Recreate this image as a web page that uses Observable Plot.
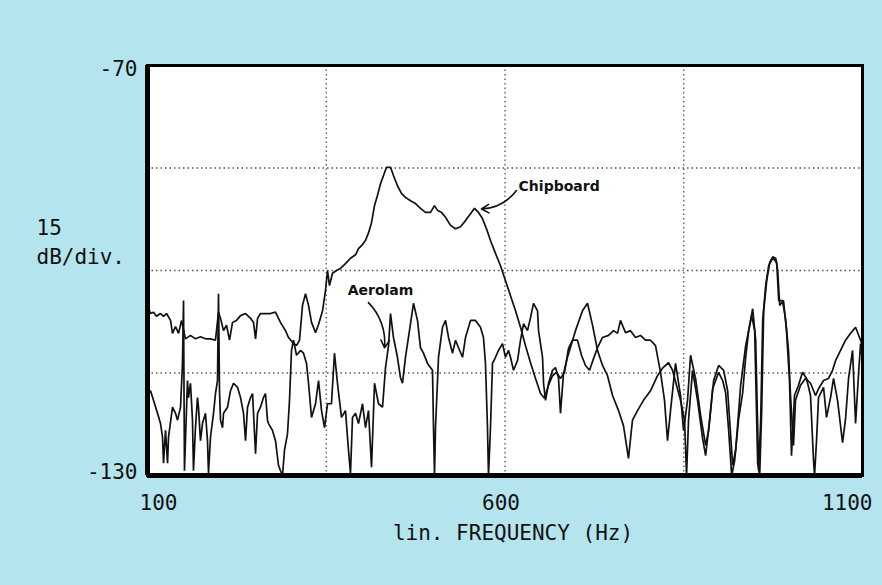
<!DOCTYPE html>
<html><head><meta charset="utf-8">
<script src="https://cdn.jsdelivr.net/npm/d3@7"></script>
<script src="https://cdn.jsdelivr.net/npm/@observablehq/plot@0.6"></script>
<style>
html,body{margin:0;padding:0;background:#b4e5ee;}
#chart{width:882px;height:585px;overflow:hidden;}
</style></head><body><div id="chart"></div>
<script>
// Chipboard spectrum (Hz, dB)
const chipFreq = [
100,104.2,108.4,112.6,118.2,122.4,126.6,132.2,135,139.2,
143.4,147.6,153.1,160.1,167.1,174.1,181.1,188.1,195.1,199.3,
202.1,206.3,210.5,214.7,218.9,224.5,230.1,237.1,244.1,248.3,
251.1,253.9,258,265,272,279,286,293,297.2,302.8,
308.4,312.6,316.8,321,325.2,329.4,335,339.2,344.8,349,
351.8,354.5,358.7,364.3,369.9,376.9,383.9,390.9,395.1,400.7,
404.9,409.1,413.3,417.5,421.7,425.9,430.1,434.3,439.9,444,
449.6,455.2,460.8,467.8,474.8,481.8,488.8,495.8,501.4,505.6,
511.2,516.8,523.8,530.8,537.8,544.8,551.8,557.3,562.9,568.5,
574.1,579.7,586.7,593.7,600.7,607.7,614.7,621.7,628.7,635.7,
642.7,649.7,655.3,660.9,666.4,672,677.6,683.2,688.8,694.4,
701.4,707,712.6,718.2,723.8,729.4,736.4,744.8,751.8,757.4,
761.5,768.5,775.5,782.5,789.5,796.5,803.5,810.5,817.5,823.1,
827.3,831.5,838.5,845.5,849.7,855.3,859.5,866.5,873.6,880.6,
884.8,891.8,898.8,905.8,911.4,918.4,922.6,929.6,936.6,940.8,
946.4,950.6,954.8,957.6,960.4,964.6,968.8,974.4,980,982.8,
988.1,992.3,996.5,999.3,1003.5,1006.3,1013.3,1020.3,1027.3,1034.3,
1038.5,1045.5,1052.5,1058.1,1062.3,1069.3,1076.3,1083.3,1090.3,1097.3,
1100];
const chipDb = [
-105.1,-106.3,-106.1,-106.7,-106.3,-106.7,-106.3,-107.3,-109.2,-108.2,
-109.2,-107.3,-110.0,-109.5,-110.0,-109.7,-110.0,-110.0,-110.2,-106.1,
-107.0,-108.8,-108.0,-110.2,-107.6,-107.3,-106.6,-106.3,-107.0,-107.6,
-110.0,-107.0,-106.3,-106.3,-106.3,-106.1,-107.6,-108.8,-109.8,-110.5,
-111.0,-110.2,-105.1,-103.4,-105.1,-107.6,-109.1,-107.9,-105.9,-102.9,
-100.0,-102.2,-100.4,-100.0,-99.7,-99.0,-98.2,-97.7,-96.8,-96.2,
-95.6,-94.5,-93.0,-90.5,-89.0,-87.3,-86.1,-84.9,-84.9,-86.1,
-87.6,-88.7,-89.3,-89.8,-90.2,-90.9,-91.5,-91.5,-90.5,-91.2,
-91.5,-92.2,-93.4,-93.9,-93.6,-92.7,-91.7,-90.9,-91.5,-92.4,
-93.9,-95.6,-97.5,-99.3,-101.5,-103.7,-105.9,-108.3,-111.0,-113.5,
-115.8,-118.0,-118.7,-116.8,-115.4,-114.9,-115.8,-114.9,-111.4,-110.2,
-110.2,-112.4,-113.9,-114.6,-112.9,-111.3,-109.8,-109.5,-108.8,-109.2,
-107.3,-109.1,-108.8,-109.8,-109.5,-110.2,-110.2,-111.0,-114.9,-119.0,
-124.9,-120.5,-113.6,-118.3,-123.4,-119.0,-112.4,-115.8,-121.2,-125.6,
-123.4,-116.1,-113.9,-114.6,-117.6,-128.5,-126.3,-116.8,-111.0,-108.8,
-105.6,-110.2,-129.3,-121.9,-107.3,-102.2,-99.3,-98.2,-98.8,-104.4,
-104.4,-107.0,-111.7,-118.3,-125.6,-119.0,-116.8,-115.8,-116.5,-118.3,
-117.3,-116.1,-115.8,-114.6,-113.2,-111.7,-110.2,-109.2,-108.3,-110.2,
-111.0];

// Aerolam spectrum (Hz, dB)
const aeroFreq = [
100,104.2,108.4,114.0,118.2,121.0,122.4,125.2,128.0,129.4,
135,139.2,142.0,146.2,148.9,150.4,151.7,155.9,157.3,160.1,
162.9,164.3,167.1,169.9,171.3,174.1,176.9,181.1,183.9,185.3,
188.1,192.3,195.1,197.9,199.3,200.7,202.1,204.9,206.3,211.9,
216.1,220.3,225.9,230.1,234.3,237.1,239.9,244.1,246.9,251.1,
253.9,258.0,262.2,265.0,267.8,269.2,274.8,279.0,283.2,286.0,
288.8,291.6,295.8,298.6,301.4,304.2,308.4,314.0,318.2,322.4,
325.2,329.4,335.0,339.2,343.4,347.6,351.8,357.3,361.5,365.7,
371.3,376.9,381.1,383.9,386.7,390.9,395.1,400.7,404.9,409.1,
413.3,417.5,423.1,428.7,432.9,437.1,439.9,444.0,449.6,453.8,
456.6,460.8,467.8,472.0,477.6,481.8,486.0,491.6,498.6,500.0,
501.4,502.8,507.0,512.6,516.8,521.0,526.6,530.8,535.0,540.6,
544.8,551.8,558.7,565.7,569.9,572.7,575.5,576.9,579.7,582.5,
586.7,590.9,596.5,600.7,604.9,607.7,611.9,617.5,621.7,625.9,
631.5,635.7,639.9,645.5,646.9,652.5,653.9,656.7,660.9,666.4,
670.6,674.8,677.6,681.8,687.4,698.6,708.4,715.4,722.4,729.4,
736.4,743.4,750.4,758.8,765.7,772.7,778.3,785.3,793.7,803.5,
813.3,820.3,828.7,834.3,839.9,845.5,851.1,853.9,856.7,862.3,
869.3,876.4,880.6,886.2,890.4,898.8,904.4,908.6,912.8,917.0,
921.2,926.8,932.4,936.6,940.8,945.0,949.2,953.4,956.2,959.0,
961.8,966.0,970.2,974.4,978.6,981.4,984.2,989.5,993.7,997.9,
1000.7,1004.9,1010.5,1016.1,1021.7,1027.3,1031.5,1032.9,1035.7,1038.5,
1045.5,1049.7,1055.3,1059.5,1065.1,1072.1,1076.3,1080.5,1086.1,1090.3,
1094.5,1097.3,1100];
const aeroDb = [
-118.0,-117.6,-119.0,-120.9,-122.4,-124.4,-128.2,-123.4,-128.2,-124.4,
-120.0,-120.9,-121.9,-120.0,-113.6,-104.4,-129.3,-116.1,-118.6,-116.5,
-121.9,-129.3,-123.0,-118.6,-120.0,-124.9,-122.4,-120.9,-124.9,-129.7,
-124.4,-120.9,-118.0,-116.1,-103.4,-117.6,-121.9,-123.0,-120.9,-120.0,
-117.6,-116.5,-117.1,-118.6,-120.9,-124.9,-120.0,-118.6,-118.0,-126.8,
-120.9,-120.0,-118.6,-118.0,-121.9,-122.4,-123.4,-124.9,-128.5,-129.3,
-130,-126.3,-123.9,-119.0,-111.7,-110.2,-112.4,-111.7,-112.1,-113.6,
-116.5,-121.5,-119.5,-116.1,-120.5,-123.0,-119.5,-119.5,-112.1,-116.5,
-121.5,-120.5,-126.3,-129.7,-121.5,-120.9,-122.4,-119.5,-123.0,-120.5,
-128.8,-116.5,-119.5,-120.0,-114.2,-111.0,-106.3,-109.8,-112.7,-115.7,
-116.5,-112.7,-107.8,-104.8,-107.3,-111.3,-112.1,-113.6,-114.6,-123.0,
-130,-123.0,-112.7,-108.3,-107.3,-109.8,-112.1,-110.2,-111.3,-112.7,
-109.8,-107.3,-107.3,-108.3,-109.8,-113.6,-123.0,-130,-123.0,-113.6,
-112.7,-111.7,-110.7,-112.7,-111.7,-112.7,-114.6,-113.2,-110.2,-107.8,
-108.8,-106.9,-104.8,-105.9,-108.8,-112.7,-116.5,-119.0,-116.5,-114.6,
-114.2,-115.7,-120.9,-115.1,-112.7,-108.8,-105.9,-104.8,-108.0,-111.7,
-113.9,-115.4,-118.3,-120.5,-122.7,-127.5,-121.9,-120.5,-119.0,-117.6,
-115.4,-114.3,-113.5,-114.6,-116.8,-119.0,-121.9,-130,-121.9,-114.6,
-119.0,-124.6,-127.1,-121.9,-117.3,-114.9,-116.1,-117.9,-123.4,-130,
-127.8,-121.7,-117.9,-112.7,-108.8,-106.6,-108.8,-128.2,-130,-120.5,
-105.9,-101.5,-98.8,-98.0,-98.2,-100.0,-105.1,-104.4,-108.8,-116.1,
-127.1,-118.3,-116.8,-114.9,-115.8,-118.3,-127.8,-130,-124.9,-118.6,
-117.1,-121.5,-118.6,-115.8,-119.0,-125.2,-121.7,-115.8,-111.7,-122.4,
-115.1,-110.7,-113.2];

// Axes, grid and labels
const xDomain = [100, 1100];
const yDomain = [-130, -70];
const xTickLeft = [100];
const xTickMid = [600];
const xTickRight = [1100];
const yTickTop = [-70];
const yTickBottom = [-130];
const gridFreq = [350, 600, 850];
const gridDb = [-85, -100, -115];
const yLabel = "15\ndB/div.";
const xLabel = "lin. FREQUENCY (Hz)";
const labelNames = ["Chipboard", "Aerolam"];
const labelFreq = [619, 380];
const labelDb = [-87.7, -102.9];
const arrowFrom = [[616, -88.3], [409, -104.7]];
const arrowTo = [[567, -91.0], [431.5, -111.3]];

const zip = (fs, ds) => fs.slice(0, Math.min(fs.length, ds.length)).map((f, i) => ({freq: f, db: ds[i]}));
const chipboard = zip(chipFreq, chipDb);
const aerolam = zip(aeroFreq, aeroDb);
const labels = labelNames.map((n, i) => ({name: n, freq: labelFreq[i], db: labelDb[i]}));
const arrows = arrowFrom.map((a, i) => ({x1: a[0], y1: a[1], x2: arrowTo[i][0], y2: arrowTo[i][1]}));

const mono = "'DejaVu Sans Mono', monospace";
const fmt = d => String(d);
const ink = "#111";

const chart = Plot.plot({
  width: 882, height: 585,
  marginLeft: 147, marginRight: 20, marginTop: 65, marginBottom: 110,
  x: {domain: xDomain},
  y: {domain: yDomain},
  style: {background: "transparent", fontFamily: mono, fontSize: "21px", color: ink, overflow: "visible"},
  marks: [
    Plot.frame({fill: "white", stroke: null}),
    Plot.ruleX(gridFreq, {stroke: "#555", strokeWidth: 1.3, strokeDasharray: "1.5,3"}),
    Plot.ruleY(gridDb, {stroke: "#555", strokeWidth: 1.3, strokeDasharray: "1.5,3"}),
    Plot.line(aerolam, {x: "freq", y: "db", stroke: ink, strokeWidth: 1.7, strokeLinejoin: "miter"}),
    Plot.line(chipboard, {x: "freq", y: "db", stroke: ink, strokeWidth: 1.7, strokeLinejoin: "miter"}),
    Plot.frame({stroke: "#000", strokeWidth: 3}),
    Plot.ruleX([xDomain[0]], {stroke: "#000", strokeWidth: 5}),
    Plot.ruleY([yDomain[0]], {stroke: "#000", strokeWidth: 5}),
    Plot.axisY(yTickTop, {tickSize: 0, tickPadding: 10, label: null, tickFormat: fmt, fontSize: 21, dy: 4}),
    Plot.axisY(yTickBottom, {tickSize: 0, tickPadding: 10, label: null, tickFormat: fmt, fontSize: 21, dy: -3}),
    Plot.axisX(xTickLeft, {tickSize: 0, tickPadding: 20, label: null, tickFormat: fmt, fontSize: 21, textAnchor: "start", dx: -8}),
    Plot.axisX(xTickMid, {tickSize: 0, tickPadding: 20, label: null, tickFormat: fmt, fontSize: 21, dx: -4}),
    Plot.axisX(xTickRight, {tickSize: 0, tickPadding: 20, label: null, tickFormat: fmt, fontSize: 21, textAnchor: "end", dx: 10}),
    Plot.text([yLabel], {text: d => d, frameAnchor: "left", dx: -111, dy: -30, textAnchor: "start", lineHeight: 1.38, fontSize: 21, fill: ink}),
    Plot.text([xLabel], {text: d => d, frameAnchor: "bottom", lineAnchor: "middle", dx: 8, dy: 58, fontSize: 21, fill: ink}),
    Plot.text(labels, {x: "freq", y: "db", text: "name", textAnchor: "start", fontFamily: "'DejaVu Sans', sans-serif", fontWeight: "bold", fontSize: 14, fill: ink}),
    Plot.arrow(arrows, {x1: "x1", y1: "y1", x2: "x2", y2: "y2", bend: 25, headLength: 8, stroke: ink, strokeWidth: 1.6})
  ]
});
document.getElementById("chart").append(chart);
</script></body></html>
